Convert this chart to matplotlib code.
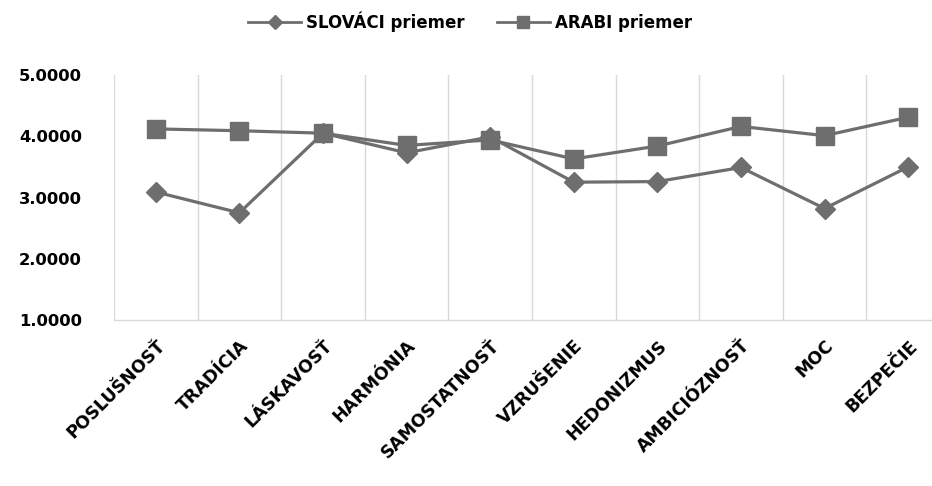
import matplotlib
matplotlib.use("Agg")
import matplotlib.pyplot as plt
import numpy as np

categories = ["POSLUŠNOSŤ", "TRADÍCIA", "LÁSKAVOSŤ", "HARMÓNIA", "SAMOSTATNOSŤ",
              "VZRUŠENIE", "HEDONIZMUS", "AMBICIÓZNOSŤ", "MOC", "BEZPEČIE"]
slovaci = [3.09, 2.75, 4.05, 3.73, 3.99, 3.25, 3.26, 3.49, 2.82, 3.50]
arabi = [4.12, 4.09, 4.05, 3.85, 3.94, 3.63, 3.84, 4.16, 4.01, 4.31]
y_ticks = [1.0, 2.0, 3.0, 4.0, 5.0]

line_color = "#6e6e6e"
grid_color = "#d9d9d9"

fig = plt.figure(figsize=(9.32, 4.86), dpi=100)
ax = fig.add_axes([114 / 932, 1 - 320 / 486, 1 - 114 / 932, (320 - 75) / 486])

x = np.arange(len(categories))
ax.plot(x, slovaci, color=line_color, lw=2.3, marker="D", ms=10,
        mfc=line_color, mec=line_color, label="SLOVÁCI priemer", zorder=3)
ax.plot(x, arabi, color=line_color, lw=2.3, marker="s", ms=13,
        mfc=line_color, mec=line_color, label="ARABI priemer", zorder=3)

ax.set_ylim(1, 5)
ax.set_yticks(y_ticks)
ax.set_yticklabels([f"{v:.4f}" for v in y_ticks], fontsize=11.8, fontweight="bold")
ax.set_xlim(-0.5, 9.285)
ax.set_xticks(x)
ax.set_xticklabels(categories, rotation=45, ha="right", va="top",
                   rotation_mode="anchor", fontsize=12.5, fontweight="bold")
ax.tick_params(axis="x", length=0, pad=12)
ax.tick_params(axis="y", length=0, pad=23)

# vertical separators between categories
for b in np.arange(-0.5, len(categories), 1.0):
    ax.axvline(b, color=grid_color, lw=1.0, zorder=1)

for side in ["top", "right", "left"]:
    ax.spines[side].set_visible(False)
ax.spines["bottom"].set_color(grid_color)
ax.spines["bottom"].set_linewidth(1.0)

leg = fig.legend(loc="center", bbox_to_anchor=(470 / 932, 1 - 22 / 486), ncol=2,
                 frameon=False, prop={"size": 12, "weight": "bold"},
                 handlelength=3.2, columnspacing=1.9, handletextpad=0.3,
                 markerscale=0.7)
for h in leg.legend_handles:
    h.set_linewidth(2.0)

fig.savefig("out.png", dpi=100)
